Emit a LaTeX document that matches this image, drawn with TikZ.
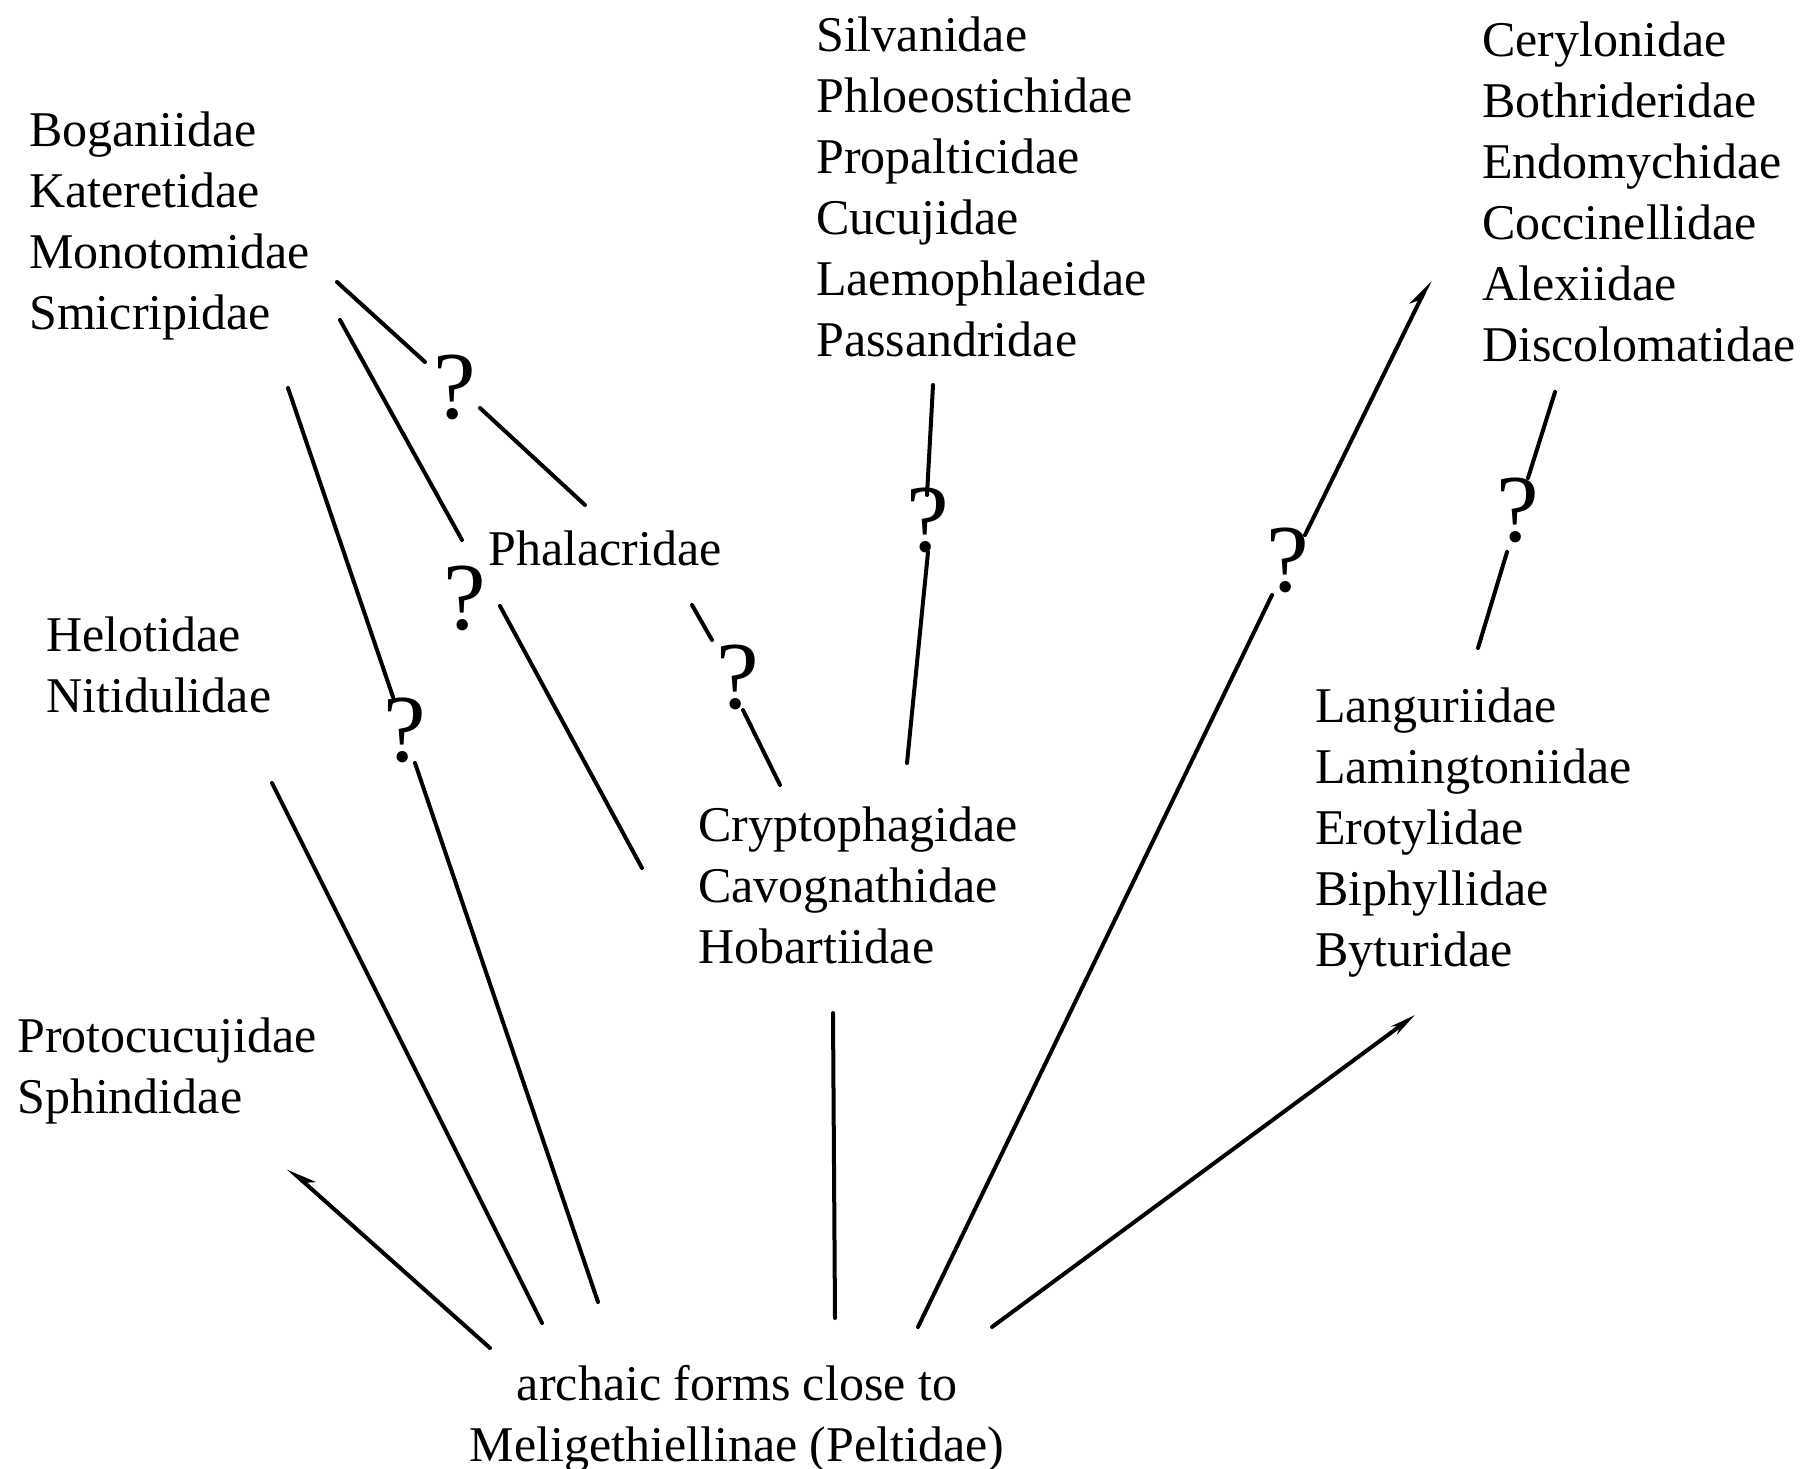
\documentclass[tikz,border=0pt]{standalone}
\usepackage{fontspec}
\setmainfont{Liberation Serif}
\usetikzlibrary{arrows.meta}
\begin{document}
\begin{tikzpicture}[x=1pt,y=-1pt,
  lbl/.style={font=\fontsize{50}{61}\selectfont, inner sep=0pt, anchor=north west, align=left},
  rootlbl/.style={font=\fontsize{50}{61}\selectfont, inner sep=0pt, anchor=north, align=center},
  qm/.style={font=\fontsize{96}{96}\selectfont, inner sep=0pt},
  ln/.style={line width=4pt, line cap=round},
  tipfull/.style={-{Stealth[length=26pt,width=10pt]}},
  tipleft/.style={-{Stealth[length=24pt,width=16pt,harpoon]}},
  tipright/.style={-{Stealth[length=24pt,width=16pt,harpoon,swap]}}
]
\useasboundingbox (0,0) rectangle (1815,1469);
\fill[white] (0,0) rectangle (1815,1469);

% text blocks
\node[lbl] (bog) at (29,112) {Boganiidae\\Kateretidae\\Monotomidae\\Smicripidae};
\node[lbl] (sil) at (816,17) {Silvanidae\\Phloeostichidae\\Propalticidae\\Cucujidae\\Laemophlaeidae\\Passandridae};
\node[lbl] (cer) at (1482,22) {Cerylonidae\\Bothrideridae\\Endomychidae\\Coccinellidae\\Alexiidae\\Discolomatidae};
\node[lbl] (pha) at (488,531) {Phalacridae};
\node[lbl] (hel) at (46,617) {Helotidae\\Nitidulidae};
\node[lbl] (cry) at (698,807) {Cryptophagidae\\Cavognathidae\\Hobartiidae};
\node[lbl] (lan) at (1315,688) {Languriidae\\Lamingtoniidae\\Erotylidae\\Biphyllidae\\Byturidae};
\node[lbl] (pro) at (17,1018) {Protocucujidae\\Sphindidae};
\node[rootlbl] (root) at (737,1365) {archaic forms close to\\Meligethiellinae (Peltidae)};

% question marks
\node[qm] (q1) at (455,387) {?};
\node[qm] (q2) at (465,598) {?};
\node[qm] (q3) at (405,730) {?};
\node[qm] (q4) at (738,677) {?};
\node[qm] (q5) at (928,520) {?};
\node[qm] (q6) at (1288,560) {?};
\node[qm] (q7) at (1518,510) {?};

% connector end points
\coordinate (r1) at (490,1348);
\coordinate (r2) at (542,1323);
\coordinate (r3) at (598,1302);
\coordinate (r4) at (835,1318);
\coordinate (r5) at (918,1327);
\coordinate (r6) at (992,1327);
\coordinate (pro1) at (288,1168);
\coordinate (hel1) at (272,783);
\coordinate (smi1) at (288,388);
\coordinate (smi2) at (340,320);
\coordinate (mon1) at (337,282);
\coordinate (pha1) at (585,505);
\coordinate (pha2) at (692,605);
\coordinate (cry1) at (642,868);
\coordinate (cry2) at (780,785);
\coordinate (cry3) at (907,763);
\coordinate (hob1) at (833,1013);
\coordinate (pas1) at (933,385);
\coordinate (cer1) at (1430,280);
\coordinate (dis1) at (1555,392);
\coordinate (lan1) at (1478,648);
\coordinate (byt1) at (1415,1015);
% gap ends at question marks
\coordinate (g1a) at (425,362);  \coordinate (g1b) at (480,408);
\coordinate (g2a) at (462,540);  \coordinate (g2b) at (500,606);
\coordinate (g3a) at (393,697);  \coordinate (g3b) at (415,763);
\coordinate (g4a) at (712,640);  \coordinate (g4b) at (743,710);
\coordinate (g5a) at (927,495);  \coordinate (g5b) at (928,552);
\coordinate (g6a) at (1305,535); \coordinate (g6b) at (1272,595);
\coordinate (g7a) at (1528,478); \coordinate (g7b) at (1507,552);

% connectors
\draw[ln,tipright] (r1) -- (pro1);
\draw[ln] (r2) -- (hel1);
\draw[ln] (r3) -- (g3b);
\draw[ln] (g3a) -- (smi1);
\draw[ln] (smi2) -- (g2a);
\draw[ln] (g2b) -- (cry1);
\draw[ln] (mon1) -- (g1a);
\draw[ln] (g1b) -- (pha1);
\draw[ln] (pha2) -- (g4a);
\draw[ln] (g4b) -- (cry2);
\draw[ln] (pas1) -- (g5a);
\draw[ln] (g5b) -- (cry3);
\draw[ln] (hob1) -- (r4);
\draw[ln] (r5) -- (g6b);
\draw[ln,tipleft] (g6a) -- (cer1);
\draw[ln] (dis1) -- (g7a);
\draw[ln] (g7b) -- (lan1);
\draw[ln,tipfull] (r6) -- (byt1);
\end{tikzpicture}
\end{document}
